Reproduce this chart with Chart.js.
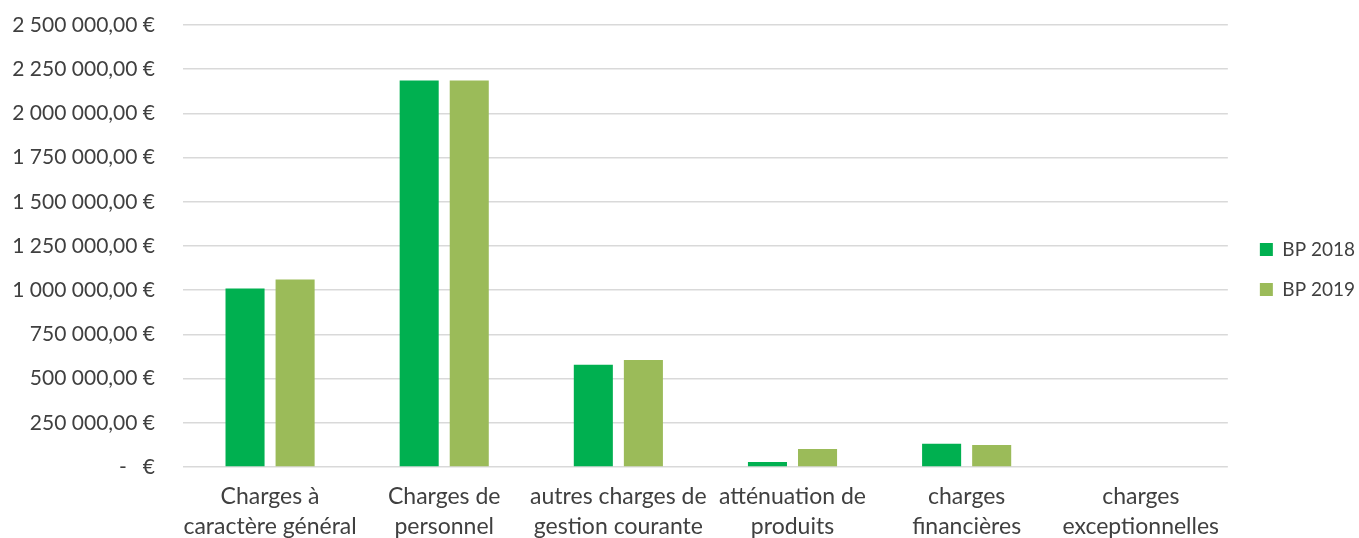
<!DOCTYPE html>
<html>
<head>
<meta charset="utf-8">
<script src="https://cdn.jsdelivr.net/npm/chart.js@4/dist/chart.umd.min.js"></script>
<style>
  html, body { margin: 0; padding: 0; background: #fff; overflow: hidden; }
  #wrap { width: 1359px; height: 538px; }
</style>
</head>
<body>
<div id="wrap"><canvas id="budgetChart" width="1359" height="538"></canvas></div>
<script>
const categories = [
  ["Charges à", "caractère général"],
  ["Charges de", "personnel"],
  ["autres charges de", "gestion courante"],
  ["atténuation de", "produits"],
  ["charges", "financières"],
  ["charges", "exceptionnelles"]
];
const bp2018 = [1009000, 2186000, 578000, 28000, 132000, 0];
const bp2019 = [1060000, 2186000, 605000, 102000, 125000, 0];
const yTicks = [0, 250000, 500000, 750000, 1000000, 1250000, 1500000, 1750000, 2000000, 2250000, 2500000];

const TEXT = "#404040";
const LEGEND_GAP = 11; // blank space between plot and legend

function euro(v) {
  if (v === 0) return "-   €";
  const parts = v.toFixed(2).split(".");
  return parts[0].replace(/\B(?=(\d{3})+(?!\d))/g, " ") + "," + parts[1] + " €";
}

// widen the legend box so the plot stops short of it, then shift items back right
const legendGap = {
  id: "legendGap",
  afterInit(chart) {
    const lg = chart.legend;
    const fit = lg.fit;
    lg.fit = function () {
      fit.call(this);
      this.width += LEGEND_GAP;
    };
  },
  afterLayout(chart) {
    chart.legend.left += LEGEND_GAP;
  }
};

const ctx = document.getElementById("budgetChart").getContext("2d");
new Chart(ctx, {
  type: "bar",
  data: {
    labels: categories,
    datasets: [
      { label: "BP 2018", data: bp2018, backgroundColor: "#00B050" },
      { label: "BP 2019", data: bp2019, backgroundColor: "#9BBB59" }
    ]
  },
  options: {
    responsive: false,
    animation: false,
    layout: { padding: { top: 1, left: 0, right: -6, bottom: 0 } },
    datasets: { bar: { categoryPercentage: 0.575, barPercentage: 0.78 } },
    scales: {
      x: {
        grid: { display: false },
        border: { display: false },
        afterFit: (axis) => { axis.height = 71; },
        ticks: { color: TEXT, font: { family: "Lato", size: 23, lineHeight: 1.33 }, maxRotation: 0, autoSkip: false, padding: 6 }
      },
      y: {
        min: 0,
        max: 2500000,
        afterBuildTicks: (axis) => { axis.ticks = yTicks.map((v) => ({ value: v })); },
        afterFit: (axis) => {
          axis.width = 183;
          axis.paddingTop = 25;
          axis.paddingBottom = 0;
        },
        grid: { color: "#D9D9D9", lineWidth: 1.6, drawTicks: false },
        border: { display: false },
        ticks: { color: TEXT, font: { family: "Lato", size: 21 }, padding: 28, callback: (v) => euro(v) }
      }
    },
    plugins: {
      legend: {
        position: "right",
        labels: { color: TEXT, font: { family: "Lato", size: 19 }, boxWidth: 13, boxHeight: 13, padding: 21 }
      },
      tooltip: { enabled: false }
    }
  },
  plugins: [legendGap]
});
</script>
</body>
</html>
